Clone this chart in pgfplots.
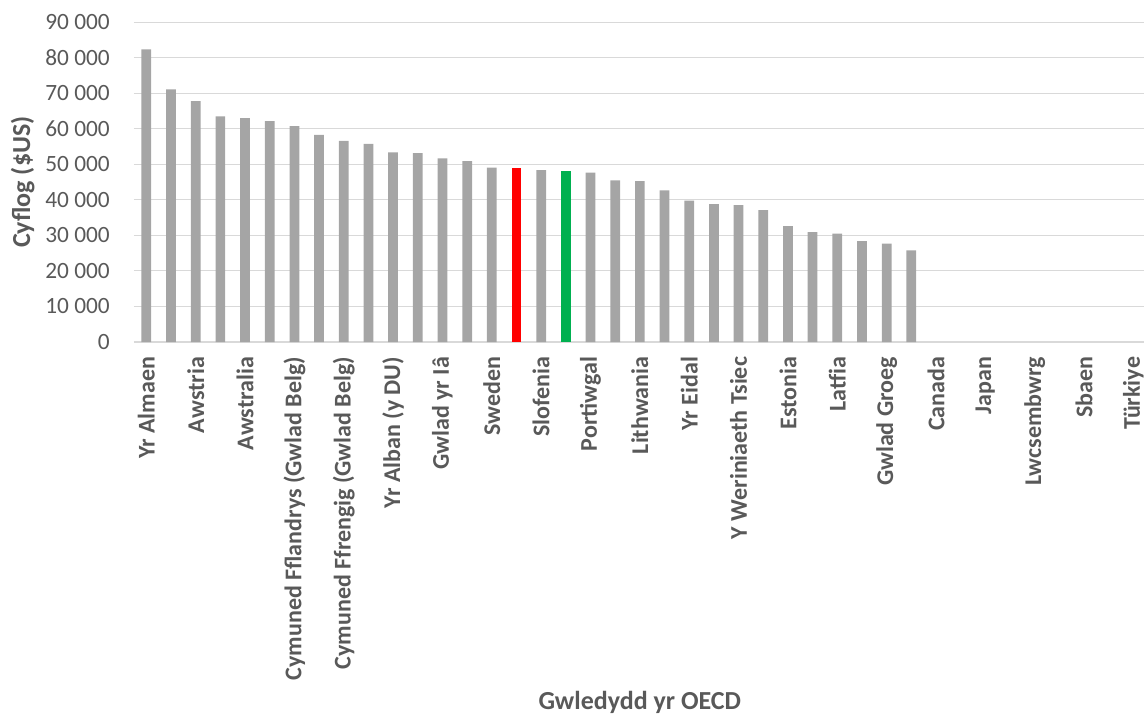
\documentclass[border=0pt]{standalone}
\usepackage{fontspec}
\setmainfont{Carlito}
\usepackage{pgfplots}
\pgfplotsset{compat=1.18}
\definecolor{bargray}{HTML}{A5A5A5}
\definecolor{barred}{HTML}{FF0000}
\definecolor{bargreen}{HTML}{00B050}
\definecolor{gridgray}{HTML}{D9D9D9}
\definecolor{textgray}{HTML}{595959}
\begin{document}
\begin{tikzpicture}
\begin{axis}[
  name=a, at={(0,0)}, anchor=south west,
  scale only axis, width=758.8pt, height=239.8pt,
  xmin=-0.5, xmax=40.5, ymin=0, ymax=90000,
  axis line style={draw=none},
  major tick length=0pt,
  scaled y ticks=false,
  ymajorgrids, grid style={gridgray, line width=0.8pt},
  ytick={0,10000,...,90000},
  yticklabels={0,10 000,20 000,30 000,40 000,50 000,60 000,70 000,80 000,90 000},
  xtick={0,2,...,40},
  xticklabels={Yr Almaen,Awstria,Awstralia,Cymuned Fflandrys (Gwlad Belg),Cymuned Ffrengig (Gwlad Belg),Yr Alban (y DU),Gwlad yr Iâ,Sweden,Slofenia,Portiwgal,Lithwania,Yr Eidal,Y Weriniaeth Tsiec,Estonia,Latfia,Gwlad Groeg,Canada,Japan,Lwcsembwrg,Sbaen,Türkiye},
  yticklabel style={font=\fontsize{17.5}{21}\selectfont, text=textgray, inner sep=0pt, anchor=east},
  yticklabel shift=18pt,
  xticklabel style={font=\bfseries\fontsize{18}{21}\selectfont, text=textgray, inner sep=0pt, rotate=90, anchor=east},
  xticklabel shift=11pt,
  xlabel={Gwledydd yr OECD},
  ylabel={Cyflog (\$US)},
  every axis x label/.style={at={(axis description cs:0.5,0)}, anchor=center, yshift=-270.5pt,
    font=\bfseries\fontsize{19.5}{23}\selectfont, text=textgray},
  every axis y label/.style={at={(axis description cs:0,0.5)}, xshift=-83.5pt, rotate=90, anchor=center,
    font=\bfseries\fontsize{19.5}{23}\selectfont, text=textgray},
  ybar, bar width=7.3pt, bar shift=0pt,
]
% other countries
\addplot[fill=bargray, draw=none] coordinates {
  (0,82400) (1,71100) (2,67800) (3,63500) (4,63000) (5,62200) (6,60800) (7,58300)
  (8,56600) (9,55800) (10,53400) (11,53200) (12,51700) (13,50900) (14,49100)
  (16,48400) (18,47700) (19,45500) (20,45300) (21,42700) (22,39800) (23,38800)
  (24,38500) (25,37100) (26,32600) (27,30900) (28,30500) (29,28400) (30,27700)
  (31,25800)
};
% highlighted bars
\addplot[fill=barred, draw=none] coordinates {(15,49000)};
\addplot[fill=bargreen, draw=none] coordinates {(17,48200)};
\end{axis}
\pgfresetboundingbox
\path[use as bounding box] (-100.5pt,-281.25pt) rectangle (757.5pt,256.5pt);
\end{tikzpicture}
\end{document}
